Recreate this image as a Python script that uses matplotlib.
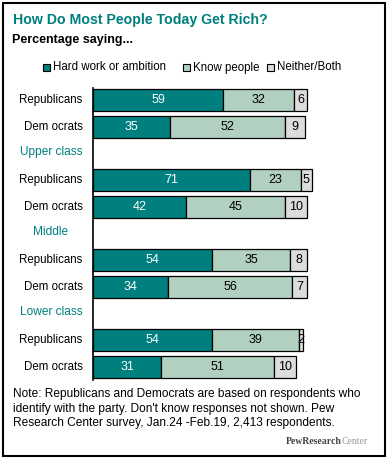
import matplotlib
matplotlib.use("Agg")
from matplotlib import pyplot as plt
from matplotlib.patches import Rectangle

plt.rcParams['font.family'] = ['Liberation Sans', 'DejaVu Sans']

# data
groups = ['', 'Upper class', 'Middle', 'Lower class']
parties = ['Republicans', 'Dem ocrats']
hard_work = [59, 35, 71, 42, 54, 34, 54, 31]
know_people = [32, 52, 23, 45, 35, 56, 39, 51]
neither = [6, 9, 5, 10, 8, 7, 2, 10]
legend_labels = ['Hard work or ambition', 'Know people', 'Neither/Both']

teal = '#007f7f'
sage = '#b2d0bf'
grey = '#dcdcdc'

fig = plt.figure(figsize=(3.9, 4.62), dpi=100)
fig.patches.append(Rectangle((3.5 / 390, 1 - 456 / 462), 381.5 / 390, 453 / 462,
                             transform=fig.transFigure, fill=False, lw=1.5, ec='black'))

step = 2.96
ypos = []
for g in range(4):
    for i in range(2):
        ypos.append(g * step + i)

ax = fig.add_axes([92.7 / 390, 1 - 380 / 462, 221.4 / 390, 292 / 462])
h = 22 / 27
left2 = [a for a in hard_work]
left3 = [a + b for a, b in zip(hard_work, know_people)]
ax.barh(ypos, hard_work, height=h, color=teal, edgecolor='black', lw=0.9)
ax.barh(ypos, know_people, left=left2, height=h, color=sage, edgecolor='black', lw=0.9)
ax.barh(ypos, neither, left=left3, height=h, color=grey, edgecolor='black', lw=0.9)
ax.set_xlim(0, 100)
ax.set_ylim(ypos[-1] + 0.48, -0.444)
ax.axis('off')
ax.plot([0, 0], [ypos[-1] + 0.48, -0.444], color='black', lw=1.2, clip_on=False)

fs = 9
for k, y in enumerate(ypos):
    ax.text(hard_work[k] / 2, y, str(hard_work[k]), ha='center', va='center', color='white', fontsize=fs)
    ax.text(left2[k] + know_people[k] / 2, y, str(know_people[k]), ha='center', va='center', fontsize=fs)
    ax.text(left3[k] + neither[k] / 2, y, str(neither[k]), ha='center', va='center', fontsize=fs)
    ax.text(-4.5, y, parties[k % 2], ha='right', va='center', fontsize=8.3)

for g in range(1, 4):
    yl = (ypos[2 * g - 1] + ypos[2 * g]) / 2 - 0.05
    ax.text(-18.9, yl, groups[g], ha='center', va='center', color=teal, fontsize=8.6)

fig.text(13 / 390, 1 - 20 / 462, 'How Do Most People Today Get Rich?', color=teal,
         fontsize=10.2, fontweight='bold', va='center')
fig.text(12 / 390, 1 - 40 / 462, 'Percentage saying...', fontsize=9, fontweight='bold', va='center')

# legend
for lab, col, lx in zip(legend_labels, [teal, sage, grey], [43, 183, 267]):
    fig.patches.append(Rectangle((lx / 390, 1 - 70.5 / 462), 7 / 390, 7 / 462,
                                 transform=fig.transFigure, fc=col, ec='black', lw=0.8))
    fig.text((lx + 10) / 390, 1 - 67.5 / 462, lab, fontsize=8.3, va='center')

note = ("Note: Republicans and Democrats are based on respondents who\n"
        "identify with the party. Don't know responses not shown. Pew\n"
        "Research Center survey, Jan.24 -Feb.19, 2,413 respondents.")
fig.text(13 / 390, 1 - 388 / 462, note, fontsize=8.6, va='top', linespacing=1.3)
t2 = fig.text(368 / 390, 1 - 441 / 462, 'Center', family='Liberation Serif', fontsize=7,
              color='#999999', va='center', ha='right')
fig.canvas.draw()
bb = t2.get_window_extent()
fig.text(bb.x0 / 390, 1 - 441 / 462, 'PewResearch', family='Liberation Serif', fontsize=7,
         fontweight='bold', color='#444444', va='center', ha='right')

fig.savefig('out.png', dpi=100)
